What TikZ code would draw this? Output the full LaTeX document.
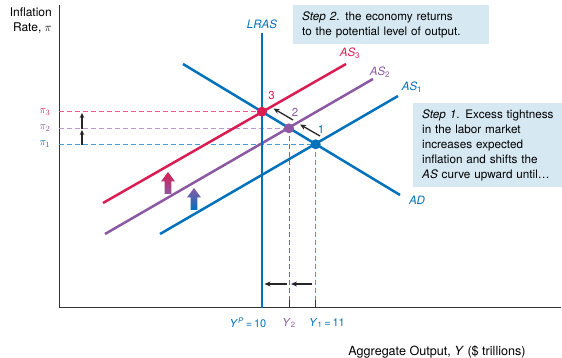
\documentclass[tikz,border=0pt]{standalone}
\usepackage{fontspec}
\setmainfont{TeX Gyre Heros}
\usetikzlibrary{arrows.meta}
\definecolor{cblue}{RGB}{0,114,188}
\definecolor{cred}{RGB}{218,28,82}
\definecolor{cpurple}{RGB}{140,88,162}
\definecolor{lblue}{RGB}{70,155,215}
\definecolor{lred}{RGB}{232,90,135}
\definecolor{lpurple}{RGB}{185,155,210}
\definecolor{boxfill}{RGB}{214,232,242}
\begin{document}
\begin{tikzpicture}[x=1pt,y=-1pt,font=\fontsize{11.5}{13}\selectfont,
  curve/.style={line width=2.5pt},
  guide/.style={dashed,dash pattern=on 5pt off 3pt,line width=1pt},
  move/.style={-{Stealth[length=6pt,width=5pt]},line width=1.3pt,black!85},
  dot/.style={circle,fill,inner sep=0pt,minimum size=10pt},
  stepbox/.style={fill=boxfill,anchor=north west,inner xsep=9pt,align=left,font=\fontsize{11.7}{15}\selectfont},
  lab/.style={inner sep=1pt}]
\useasboundingbox (0,0) rectangle (562,358);
% axes
\coordinate (ytop) at (59,5);
\coordinate (orig) at (59,307.5);
\coordinate (xend) at (561,307.5);
\draw[line width=0.8pt,black!80] (ytop) -- (orig) -- (xend);
\node[lab,anchor=east,align=right,font=\fontsize{12}{15}\selectfont] (ylab) at (53,20) {Inflation\\Rate, $\pi$};
\node[lab,font=\fontsize{12.6}{14}\selectfont] (xlab) at (437,352) {Aggregate Output, \textit{Y} (\$ trillions)};
% points
\coordinate (p3) at (262,111.7);
\coordinate (p2) at (289,128.3);
\coordinate (p1) at (315.7,144.3);
% dashed guides
\coordinate (g3) at (59,111.7);
\coordinate (g2) at (59,128.3);
\coordinate (g1) at (59,144.3);
\coordinate (b2) at (289,300);
\coordinate (b1) at (315.7,300);
\coordinate (t2) at (289,307.5);
\coordinate (t1) at (315.7,307.5);
\draw[guide,lred] (g3) -- (p3);
\draw[guide,lpurple] (g2) -- (p2);
\draw[guide,lblue] (g1) -- (p1);
\draw[guide,cpurple] (p2) -- (b2);
\draw[guide,lblue] (p1) -- (b1);
\draw[line width=0.9pt,black!80] (b2) -- (t2);
\draw[line width=0.9pt,black!80] (b1) -- (t1);
% curves
\coordinate (lrasT) at (262,33);
\coordinate (lrasB) at (262,307.5);
\coordinate (adA) at (183,64);
\coordinate (adB) at (400,195);
\coordinate (as1A) at (160,234);
\coordinate (as1B) at (398,96);
\coordinate (as2A) at (105,234);
\coordinate (as2B) at (373,79);
\coordinate (as3A) at (103,203);
\coordinate (as3B) at (346,64);
\draw[curve,cblue] (adA) -- (adB);
\draw[curve,cblue] (as1A) -- (as1B);
\draw[curve,cpurple] (as2A) -- (as2B);
\draw[curve,cred] (as3A) -- (as3B);
\draw[curve,cblue] (lrasT) -- (lrasB);
\node[dot,cred] (d3) at (p3) {};
\node[dot,cpurple] (d2) at (p2) {};
\node[dot,cblue] (d1) at (p1) {};
% labels
\node[lab,cblue] (lras) at (262,24) {\textit{LRAS}};
\node[lab,cred] (las3) at (350,53) {\textit{AS}\textsubscript{3}};
\node[lab,cpurple] (las2) at (380,72) {\textit{AS}\textsubscript{2}};
\node[lab,cblue] (las1) at (412,87) {\textit{AS}\textsubscript{1}};
\node[lab,cblue] (lad) at (417,200) {\textit{AD}};
\node[lab,cred] (n3) at (271.5,96) {3};
\node[lab,cpurple] (n2) at (295,112) {2};
\node[lab,cblue] (n1) at (321,129) {1};
\node[lab,cred,font=\fontsize{11}{12}\selectfont] (pi3) at (45,112) {$\pi_3$};
\node[lab,cpurple,font=\fontsize{11}{12}\selectfont] (pi2) at (45,128) {$\pi_2$};
\node[lab,cblue,font=\fontsize{11}{12}\selectfont] (pi1) at (45,144) {$\pi_1$};
\node[lab,cblue,font=\fontsize{11}{12}\selectfont] (yp) at (248,323) {\textit{Y}\textsuperscript{\textit{P}}\,=\,10};
\node[lab,cpurple,font=\fontsize{11}{12}\selectfont] (y2) at (289,323) {\textit{Y}\textsubscript{2}};
\node[lab,cblue,font=\fontsize{11}{12}\selectfont] (y1) at (327,323) {\textit{Y}\textsubscript{1}\,=\,11};
% movement arrows
\coordinate (m1s) at (320,136);
\coordinate (m1e) at (300,124.5);
\coordinate (m2s) at (293,120);
\coordinate (m2e) at (273.5,108.5);
\draw[move] (m1s) -- (m1e);
\draw[move] (m2s) -- (m2e);
\coordinate (h1s) at (312,284);
\coordinate (h1e) at (291,284);
\coordinate (h2s) at (287,284);
\coordinate (h2e) at (264.5,284);
\draw[move] (h1s) -- (h1e);
\draw[move] (h2s) -- (h2e);
\coordinate (v1s) at (82,145);
\coordinate (v1e) at (82,130);
\coordinate (v2s) at (82,129);
\coordinate (v2e) at (82,113);
\draw[move,-{Stealth[length=5pt,width=4.5pt]},line width=1.1pt] (v1s) -- (v1e);
\draw[move,-{Stealth[length=5pt,width=4.5pt]},line width=1.1pt] (v2s) -- (v2e);
% block arrows
\shade[top color=cred,bottom color=cpurple] (168,194) ++(-3.3,0) -- ++(0,-12.5) -- ++(-3.7,0) -- ++(7,-9.5) -- ++(7,9.5) -- ++(-3.7,0) -- ++(0,12.5) -- cycle;
\shade[top color=cpurple,bottom color=cblue] (194,210) ++(-3.3,0) -- ++(0,-12.5) -- ++(-3.7,0) -- ++(7,-9.5) -- ++(7,9.5) -- ++(-3.7,0) -- ++(0,12.5) -- cycle;
% boxes
\node[stepbox,minimum width=195pt,minimum height=39pt,text width=178pt] (step2) at (293,5) {\textit{Step 2}. the economy returns\\to the potential level of output.};
\node[stepbox,minimum width=149pt,minimum height=84pt,text width=134pt] (step1) at (413,103) {\textit{Step 1}. Excess tightness\\in the labor market\\increases expected\\inflation and shifts the\\\textit{AS} curve upward until\ldots};
\end{tikzpicture}
\end{document}
